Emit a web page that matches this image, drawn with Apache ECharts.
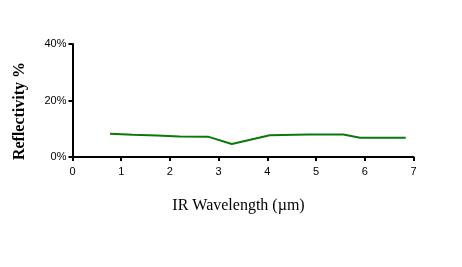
<!DOCTYPE html>
<html><head><meta charset="utf-8">
<script src="https://cdn.jsdelivr.net/npm/echarts@6/dist/echarts.min.js"></script>
<style>html,body{margin:0;padding:0;background:#fff}#c{width:462px;height:267px}</style>
</head><body><div id="c"></div>
<script>
const wavelength = [0.77, 1.24, 1.73, 2.2, 2.78, 3.27, 4.05, 4.84, 5.56, 5.9, 6.84];
const reflectivity = [8.2, 7.9, 7.6, 7.3, 7.2, 4.6, 7.7, 8.0, 8.0, 6.8, 6.8];
const yTicks = [0, 20, 40];
const xTitle = 'IR Wavelength (µm)';
const yTitle = 'Reflectivity %';
const chart = echarts.init(document.getElementById('c'));
chart.setOption({
  animation: false,
  grid: {left: 72.5, right: 48.5, top: 44, bottom: 110},
  graphic: [
    {type: 'text', x: 238.5, y: 206, style: {text: xTitle, fontFamily: 'Liberation Serif', fontSize: 16, fill: '#000', align: 'center', verticalAlign: 'middle'}},
    {type: 'text', x: 20, y: 111, rotation: Math.PI / 2, style: {text: yTitle, fontFamily: 'Liberation Serif', fontSize: 16, fontWeight: 'bold', fill: '#000', align: 'center', verticalAlign: 'middle'}}
  ],
  xAxis: {
    type: 'value', min: 0, max: 7, interval: 1,
    axisLine: {lineStyle: {color: '#000', width: 2}},
    axisTick: {show: true, length: 4, lineStyle: {color: '#000', width: 2}},
    axisLabel: {fontFamily: 'Liberation Sans', fontSize: 11, color: '#000', margin: 9},
    splitLine: {show: false}
  },
  yAxis: {
    type: 'value', min: 0, max: 40, interval: 20,
    axisLine: {show: true, lineStyle: {color: '#000', width: 2}},
    axisTick: {show: true, length: 4, lineStyle: {color: '#000', width: 2}},
    axisLabel: {fontFamily: 'Liberation Sans', fontSize: 11, color: '#000', margin: 6,
      formatter: v => yTicks.includes(v) ? v + '%' : ''},
    splitLine: {show: false}
  },
  series: [{
    type: 'line',
    data: wavelength.map((x, i) => [x, reflectivity[i]]),
    symbol: 'none',
    lineStyle: {color: '#0a780a', width: 2}
  }]
});
</script></body></html>
